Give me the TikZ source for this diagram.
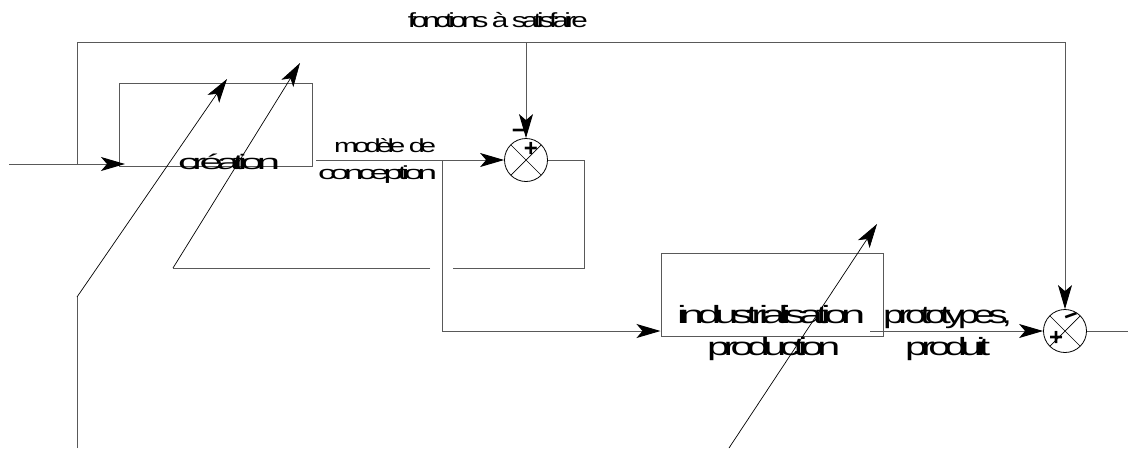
\documentclass[tikz,border=0pt]{standalone}
\usepackage{fontspec}
\setmainfont{Liberation Sans}
\newfontfamily\squish[LetterSpace=-16]{Liberation Sans}
\usetikzlibrary{arrows.meta}
\newcommand{\lbl}[3]{{\fontsize{#1}{#1}\selectfont\squish\resizebox{#2}{\height}{#3}}}
\begin{document}
\begin{tikzpicture}[x=1pt,y=-1pt,
  conn/.style={draw=black!65, line width=1pt},
  thinln/.style={draw=black, line width=0.7pt},
  arr/.style={-{Stealth[length=24pt,width=14pt,inset=6pt,color=black]}},
  blk/.style={draw=black!65, line width=1pt, rectangle, inner sep=0pt},
  lab/.style={inner sep=0pt, text=black},
  sgn/.style={inner sep=0pt, font=\fontsize{24}{24}\selectfont\bfseries},
  sumnode/.style={circle, draw=black, line width=0.8pt, minimum size=43pt, inner sep=0pt,
    path picture={\draw[line width=0.7pt]
      (path picture bounding box.north west) -- (path picture bounding box.south east)
      (path picture bounding box.north east) -- (path picture bounding box.south west);}}]
\useasboundingbox (0,0) rectangle (1128,448);

% blocks
\node[blk, minimum width=193pt, minimum height=83pt] (cre) at (215.5,124.5) {};
\node[blk, minimum width=222pt, minimum height=83pt] (ind) at (772,294.5) {};
\node[sumnode] (s1) at (526,160) {};
\node[sumnode] (s2) at (1065,331) {};

% coordinates
\coordinate (in0) at (9,164);
\coordinate (j1) at (77,164);
\coordinate (topL) at (77,42);
\coordinate (topM) at (526,42);
\coordinate (topR) at (1065,42);
\coordinate (m0) at (316,160);
\coordinate (b0) at (442,160);
\coordinate (b1) at (442,331);
\coordinate (l1) at (584,160);
\coordinate (l2) at (584,268);
\coordinate (l3) at (453,268);
\coordinate (l4) at (430,268);
\coordinate (l5) at (173,268);
\coordinate (t2) at (300,63);
\coordinate (a0) at (77,448);
\coordinate (a1) at (77,297);
\coordinate (t1) at (227,79);
\coordinate (c0) at (729,448);
\coordinate (t3) at (877,224);
\coordinate (o0) at (870,331);
\coordinate (cin) at (125,164);
\coordinate (out) at (1128,331);

% connectors
\draw[conn,arr] (in0) -- (cin);
\draw[conn] (j1) -- (topL);
\draw[conn,arr] (topL) -- (topR) -- (s2.north);
\draw[conn,arr] (topM) -- (s1.north);
\draw[conn,arr] (m0) -- (s1.west);
\draw[conn,arr] (b0) -- (b1) -- (ind.west |- b1);
\draw[conn] (s1.east) -- (l1) -- (l2) -- (l3);
\draw[conn] (l4) -- (l5);
\draw[thinln,arr] (l5) -- (t2);
\draw[conn] (a0) -- (a1);
\draw[thinln,arr] (a1) -- (t1);
\draw[thinln,arr] (c0) -- (t3);
\draw[conn,arr] (o0) -- (s2.west);
\draw[conn] (s2.east) -- (out);

% labels
\node[lab, anchor=base east] (title) at (588,27) {\lbl{20.5}{180pt}{fonctions à satisfaire}};
\node[lab, anchor=base west] (tcre) at (178,169) {\lbl{21}{102pt}{création}};
\node[lab, anchor=base west] (tmod) at (334,152) {\lbl{19}{102pt}{modèle de}};
\node[lab, anchor=base west] (tcon) at (318,179) {\lbl{19}{119pt}{conception}};
\node[lab, anchor=base west] (tind) at (677,323) {\lbl{25}{188pt}{industrialisation}};
\node[lab, anchor=base west] (tpro) at (707,355) {\lbl{25}{133pt}{production}};
\node[lab, anchor=base west] (tpt) at (883,323) {\lbl{25}{129pt}{prototypes,}};
\node[lab, anchor=base west] (tpd) at (905,355) {\lbl{25}{85pt}{produit}};

% signs
\node[sgn] (m1) at (519,134) {−};
\node[sgn] (p1) at (531,149) {+};
\node[sgn, rotate=20] (m2) at (1072,319) {−};
\node[sgn] (p2) at (1056,338) {+};
\end{tikzpicture}
\end{document}
